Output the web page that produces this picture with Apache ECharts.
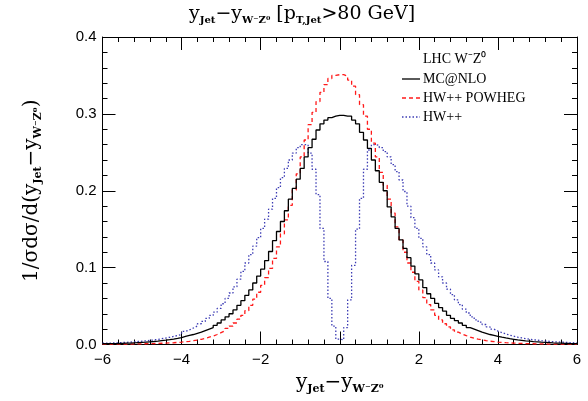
<!DOCTYPE html>
<html>
<head>
<meta charset="utf-8">
<script src="https://cdn.jsdelivr.net/npm/echarts@6/dist/echarts.min.js"></script>
<style>
  html, body { margin: 0; padding: 0; background: #fff; }
  #chart { width: 588px; height: 401px; }
</style>
</head>
<body>
<div id="chart"></div>
<script>
// histogram bins: 120 bins of width 0.1 from -6 to 6
const binStart = -6;
const binWidth = 0.1;
const binCount = 120;

const seriesNames = ['MC@NLO', 'HW++ POWHEG', 'HW++'];

const mcnlo = [
  0.001, 0.0011, 0.0012, 0.0013, 0.0015, 0.0017, 0.0019, 0.0022, 0.0025, 0.0028,
  0.0031, 0.0035, 0.0039, 0.0044, 0.005, 0.0056, 0.0063, 0.0071, 0.008, 0.009,
  0.0106, 0.0118, 0.013, 0.0145, 0.016, 0.018, 0.020, 0.022, 0.025, 0.028,
  0.032, 0.036, 0.040, 0.045, 0.051, 0.057, 0.064, 0.071, 0.080, 0.089,
  0.098, 0.109, 0.121, 0.135, 0.147, 0.160, 0.174, 0.189, 0.203, 0.215,
  0.229, 0.244, 0.256, 0.267, 0.279, 0.287, 0.292, 0.295, 0.297, 0.298,
  0.298, 0.297, 0.297, 0.292, 0.287, 0.276, 0.266, 0.255, 0.240, 0.226,
  0.211, 0.200, 0.179, 0.166, 0.151, 0.136, 0.125, 0.113, 0.102, 0.092,
  0.084, 0.074, 0.066, 0.060, 0.0535, 0.048, 0.0435, 0.038, 0.034, 0.031,
  0.028, 0.025, 0.022, 0.020, 0.018, 0.016, 0.0145, 0.013, 0.0118, 0.0106,
  0.0095, 0.0085, 0.0076, 0.0068, 0.006, 0.0054, 0.0048, 0.0043, 0.0038, 0.0034,
  0.003, 0.0027, 0.0024, 0.0021, 0.0019, 0.0017, 0.0015, 0.0013, 0.0012, 0.001
];

const powheg = [
  0.0003, 0.0003, 0.0004, 0.0004, 0.0005, 0.0005, 0.0006, 0.0007, 0.0008, 0.0009,
  0.001, 0.0011, 0.0012, 0.0014, 0.0016, 0.0018, 0.002, 0.0023, 0.0027, 0.0031,
  0.0036, 0.0042, 0.0049, 0.0058, 0.0068, 0.008, 0.0095, 0.011, 0.013, 0.0155,
  0.018, 0.021, 0.024, 0.028, 0.033, 0.038, 0.044, 0.051, 0.059, 0.068,
  0.077, 0.087, 0.099, 0.112, 0.127, 0.144, 0.162, 0.181, 0.201, 0.222,
  0.244, 0.266, 0.286, 0.302, 0.316, 0.328, 0.338, 0.346, 0.350, 0.351,
  0.351, 0.349, 0.344, 0.336, 0.325, 0.312, 0.297, 0.280, 0.262, 0.244,
  0.224, 0.207, 0.189, 0.171, 0.153, 0.136, 0.120, 0.106, 0.094, 0.082,
  0.071, 0.061, 0.052, 0.045, 0.038, 0.032, 0.027, 0.023, 0.019, 0.016,
  0.0135, 0.0115, 0.0097, 0.0082, 0.007, 0.006, 0.005, 0.0043, 0.0037, 0.0032,
  0.0028, 0.0024, 0.0021, 0.0018, 0.0016, 0.0014, 0.0012, 0.0011, 0.001, 0.0009,
  0.0008, 0.0007, 0.0006, 0.0006, 0.0005, 0.0005, 0.0004, 0.0004, 0.0003, 0.0003
];

const hwpp = [
  0.0016, 0.0018, 0.002, 0.0022, 0.0025, 0.0028, 0.0031, 0.0035, 0.0039, 0.0043,
  0.0047, 0.0053, 0.006, 0.0067, 0.0075, 0.0084, 0.0094, 0.0105, 0.0117, 0.013,
  0.017, 0.019, 0.0215, 0.024, 0.027, 0.030, 0.034, 0.038, 0.042, 0.047,
  0.053, 0.060, 0.067, 0.075, 0.085, 0.095, 0.106, 0.117, 0.128, 0.139,
  0.151, 0.163, 0.176, 0.190, 0.204, 0.217, 0.229, 0.240, 0.249, 0.256,
  0.260, 0.260, 0.249, 0.228, 0.195, 0.151, 0.108, 0.060, 0.024, 0.007,
  0.006, 0.022, 0.058, 0.103, 0.150, 0.190, 0.228, 0.253, 0.260, 0.259,
  0.256, 0.251, 0.244, 0.234, 0.225, 0.214, 0.199, 0.180, 0.165, 0.151,
  0.138, 0.127, 0.117, 0.106, 0.097, 0.088, 0.080, 0.072, 0.065, 0.058,
  0.052, 0.046, 0.041, 0.036, 0.032, 0.029, 0.026, 0.023, 0.020, 0.0175,
  0.0155, 0.0138, 0.0122, 0.0108, 0.0096, 0.0086, 0.0077, 0.0069, 0.0062, 0.0056,
  0.005, 0.0045, 0.0041, 0.0037, 0.0034, 0.0031, 0.0028, 0.0025, 0.0023, 0.0021
];

const xTicks = [-6, -4, -2, 0, 2, 4, 6];
const yTicks = [0.0, 0.1, 0.2, 0.3, 0.4];

const serif = 'DejaVu Serif';
const sans = 'Liberation Sans';
const colors = { mc: '#000000', pw: '#ff1a1a', hw: '#3c3cb4' };

// step histogram points: [lowEdge, value] + closing point at the last edge
function toSteps(vals) {
  const pts = vals.map((v, i) => [+(binStart + i * binWidth).toFixed(2), v]);
  pts.push([+(binStart + binCount * binWidth).toFixed(2), vals[vals.length - 1]]);
  return pts;
}

const mathRich = size => ({
  m: { fontFamily: serif, fontSize: size, fontWeight: 'normal', color: '#000', verticalAlign: 'middle' },
  s: { fontFamily: serif, fontSize: Math.round(size * 0.55), fontWeight: 'bold', color: '#000', verticalAlign: 'middle', padding: [Math.round(size * 0.6), 0, 0, 0] }
});

const tickCommon = {
  show: true, inside: true, length: 13,
  lineStyle: { color: '#000', width: 1 }
};
const minorCommon = {
  show: true, splitNumber: 5, length: 5,
  lineStyle: { color: '#000', width: 1 }
};
const lineCommon = { show: true, onZero: false, lineStyle: { color: '#000', width: 1 } };

// legend drawn by hand: sample line + label
const legendRows = [
  { name: seriesNames[0], color: colors.mc, dash: null, y: 79 },
  { name: seriesNames[1], color: colors.pw, dash: [4, 3], y: 98 },
  { name: seriesNames[2], color: colors.hw, dash: [1.5, 2], y: 117 }
];
const legendGraphics = [];
legendRows.forEach(r => {
  legendGraphics.push({
    type: 'line', shape: { x1: 402, y1: r.y, x2: 420, y2: r.y },
    style: { stroke: r.color, lineWidth: 1.3, lineDash: r.dash }
  });
  legendGraphics.push({
    type: 'text', x: 423, y: r.y,
    style: { text: r.name, fill: '#000', font: '14px "Liberation Serif"', verticalAlign: 'middle' }
  });
});
legendGraphics.push({
  type: 'text', x: 423, y: 59,
  style: { text: 'LHC W⁻Z⁰', fill: '#000', font: '14px "Liberation Serif"', verticalAlign: 'middle' }
});

const chart = echarts.init(document.getElementById('chart'), null, { renderer: 'canvas' });

chart.setOption({
  animation: false,
  backgroundColor: '#fff',
  title: {
    text: '{m|y}{s|Jet}{m|−y}{s|W⁻Z⁰}{m| [p}{s|T,Jet}{m|>80 GeV]}',
    left: 189, top: 4, padding: 0,
    textStyle: { fontWeight: 'normal', rich: mathRich(19) }
  },
  graphic: legendGraphics,
  grid: { left: 102.5, right: 11, top: 37, bottom: 56.5 },
  xAxis: [{
    type: 'value', min: -6, max: 6, interval: 2,
    axisLine: lineCommon, axisTick: tickCommon, minorTick: minorCommon,
    splitLine: { show: false },
    axisLabel: {
      margin: 8, fontFamily: sans, fontSize: 15, color: '#000',
      formatter: v => xTicks.includes(v) ? (v < 0 ? '−' + Math.abs(v) : String(v)) : ''
    },
    name: '{m|y}{s|Jet}{m|−y}{s|W⁻Z⁰}',
    nameLocation: 'middle', nameGap: 27,
    nameTextStyle: { fontWeight: 'normal', rich: mathRich(20) }
  }, {
    type: 'value', min: -6, max: 6, interval: 2, position: 'top',
    axisLine: lineCommon, axisTick: tickCommon, minorTick: minorCommon,
    splitLine: { show: false }, axisLabel: { show: false }
  }],
  yAxis: [{
    type: 'value', min: 0, max: 0.4, interval: 0.1,
    axisLine: lineCommon, axisTick: tickCommon, minorTick: minorCommon,
    splitLine: { show: false },
    axisLabel: {
      margin: 6, fontFamily: sans, fontSize: 15, color: '#000',
      formatter: v => yTicks.some(t => Math.abs(t - v) < 1e-9) ? v.toFixed(1) : ''
    },
    name: '{m|1/σdσ/d(y}{s|Jet}{m|−y}{s|W⁻Z⁰}{m|)}',
    nameLocation: 'middle', nameGap: 59,
    nameTextStyle: { fontWeight: 'normal', rich: mathRich(20) }
  }, {
    type: 'value', min: 0, max: 0.4, interval: 0.1, position: 'right',
    axisLine: lineCommon, axisTick: tickCommon, minorTick: minorCommon,
    splitLine: { show: false }, axisLabel: { show: false }
  }],
  series: [{
    name: seriesNames[0], type: 'line', step: 'end', symbol: 'none',
    z: 4,
    lineStyle: { color: colors.mc, width: 1.3, type: 'solid' },
    data: toSteps(mcnlo)
  }, {
    name: seriesNames[1], type: 'line', step: 'end', symbol: 'none',
    z: 3,
    lineStyle: { color: colors.pw, width: 1.3, type: [4, 3] },
    data: toSteps(powheg)
  }, {
    name: seriesNames[2], type: 'line', step: 'end', symbol: 'none',
    z: 2,
    lineStyle: { color: colors.hw, width: 1.3, type: [1.5, 2] },
    data: toSteps(hwpp)
  }]
});
</script>
</body>
</html>
